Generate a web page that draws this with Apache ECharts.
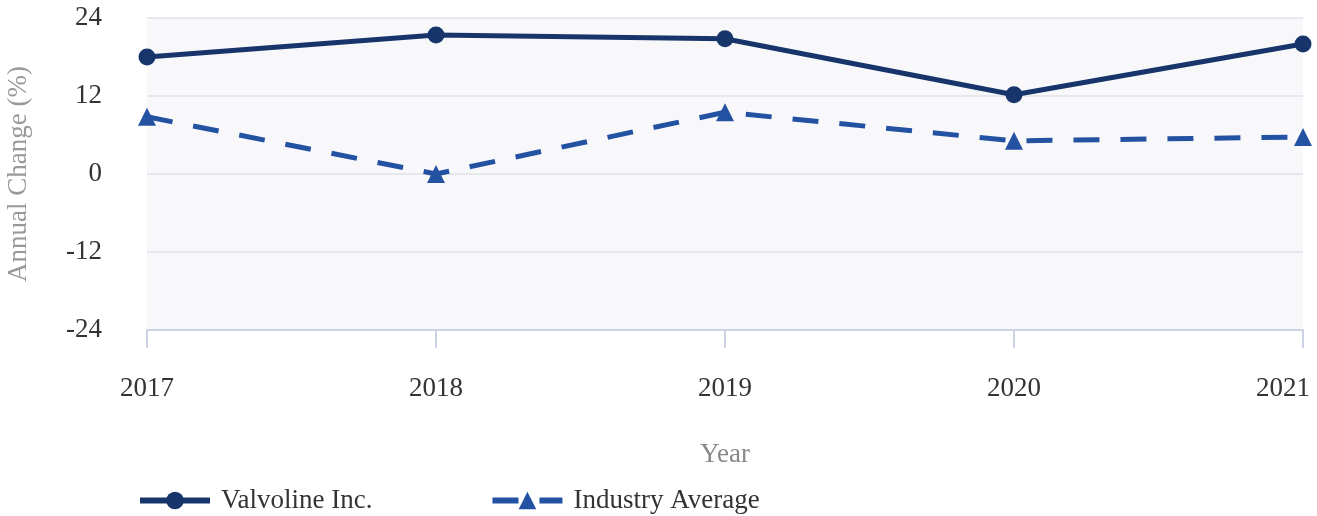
<!DOCTYPE html>
<html>
<head>
<meta charset="utf-8">
<script src="https://cdn.jsdelivr.net/npm/echarts@6/dist/echarts.min.js"></script>
<style>html,body{margin:0;padding:0;background:#fff}#c{width:1317px;height:516px}</style>
</head>
<body>
<div id="c"></div>
<script>
const years = ['2017', '2018', '2019', '2020', '2021'];
const valvoline = [18.0, 21.4, 20.8, 12.2, 20.0];
const industry = [8.8, 0.0, 9.5, 5.1, 5.7];
const yTicks = [-24, -12, 0, 12, 24];

const FONT = '"Liberation Serif", "Times New Roman", serif';
const FS = 27;
const xData = years.map((y, i) => i === years.length - 1
  ? {value: y, textStyle: {padding: [0, 40, 0, 0]}}
  : y);
const chart = echarts.init(document.getElementById('c'), null, {renderer: 'canvas'});
chart.setOption({
  animation: false,
  textStyle: {fontFamily: FONT},
  grid: {left: 147, right: 14, top: 18, bottom: 186, show: true, backgroundColor: '#f8f8fa', borderWidth: 0,
         containLabel: false, outerBoundsMode: 'none'},
  legend: {
    left: 132, top: 482,
    itemWidth: 70, itemHeight: 22, itemGap: 117,
    lineStyle: {width: 6},
    textStyle: {fontFamily: FONT, fontSize: FS, color: '#333', padding: [0, 0, 0, 6]},
    data: ['Valvoline Inc.', 'Industry Average']
  },
  xAxis: {
    type: 'category', data: xData, boundaryGap: false,
    name: 'Year', nameLocation: 'middle', nameGap: 111,
    nameTextStyle: {fontFamily: FONT, fontSize: FS, color: '#888'},
    axisLine: {show: true, onZero: false, lineStyle: {color: '#ccd3e6', width: 2}},
    axisTick: {show: true, length: 18, lineStyle: {color: '#ccd3e6', width: 2}},
    axisLabel: {fontFamily: FONT, fontSize: FS, color: '#333', margin: 45},
    splitLine: {show: false}
  },
  yAxis: {
    type: 'value', min: yTicks[0], max: yTicks[yTicks.length - 1], interval: 12,
    name: 'Annual Change (%)', nameLocation: 'middle', nameGap: 115,
    nameTextStyle: {fontFamily: FONT, fontSize: FS, color: '#999'},
    axisLine: {show: false}, axisTick: {show: false},
    axisLabel: {fontFamily: FONT, fontSize: FS, color: '#333', margin: 45},
    splitLine: {show: true, lineStyle: {color: '#e6e8ee', width: 2}}
  },
  series: [
    {
      name: 'Valvoline Inc.', type: 'line', data: valvoline,
      symbol: 'circle', symbolSize: 17,
      lineStyle: {color: '#17356b', width: 5},
      itemStyle: {color: '#17356b'}
    },
    {
      name: 'Industry Average', type: 'line', data: industry,
      symbol: 'triangle', symbolSize: 18,
      lineStyle: {color: '#2452a2', width: 5, type: [26, 21]},
      itemStyle: {color: '#2452a2'}
    }
  ]
});
</script>
</body>
</html>
